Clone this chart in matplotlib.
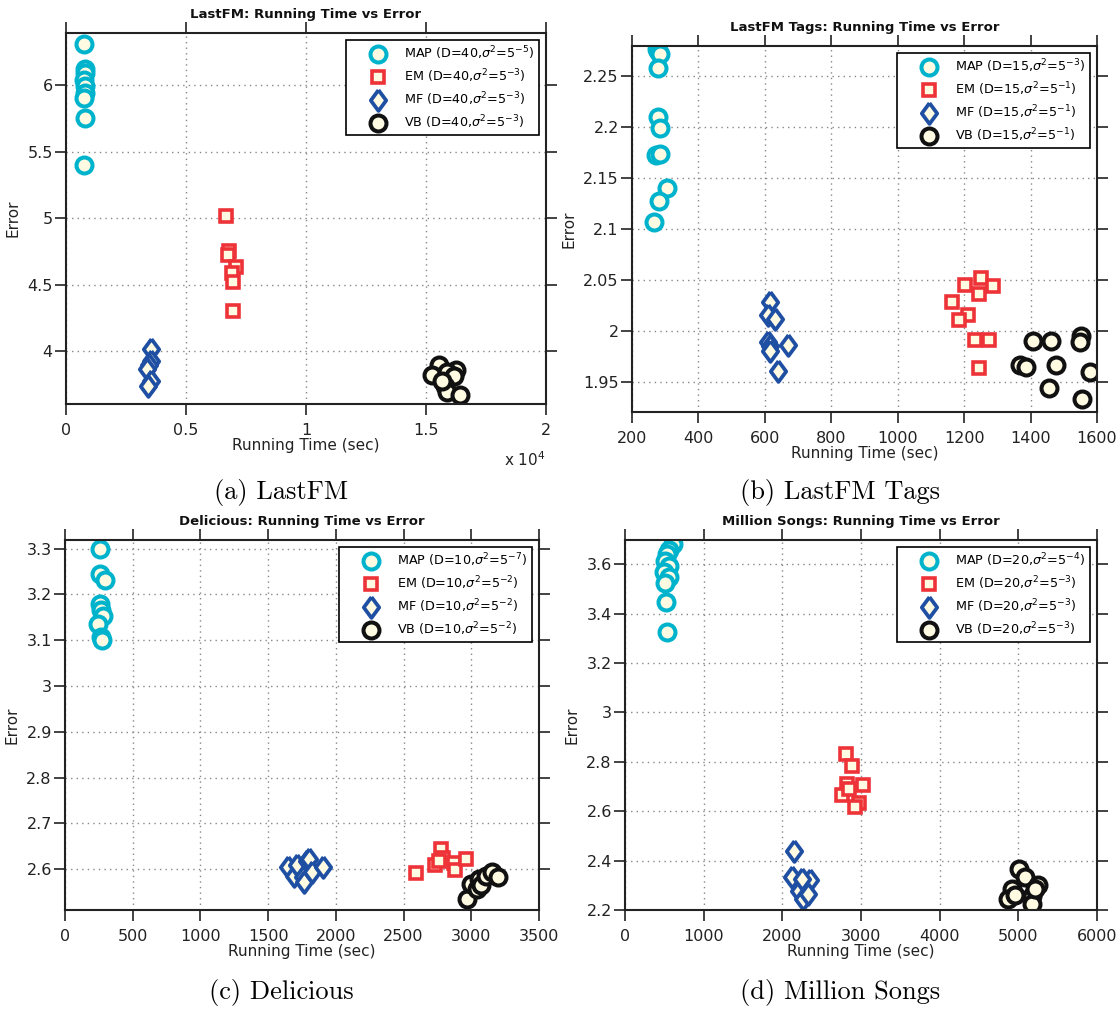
import matplotlib
matplotlib.use('Agg')
import matplotlib.pyplot as plt
from matplotlib.ticker import FixedLocator, FixedFormatter

plt.rcParams['font.family'] = ['DejaVu Sans']
plt.rcParams['mathtext.fontset'] = 'dejavusans'

# ---------------- data ----------------
# (a) LastFM
a_map_x = [770, 780, 790, 770, 800, 780, 770, 780, 770]
a_map_y = [6.31, 6.12, 6.09, 6.04, 5.99, 5.94, 5.90, 5.75, 5.40]
a_em_x = [6660, 6800, 6730, 7075, 6910, 6940, 6940]
a_em_y = [5.02, 4.75, 4.72, 4.63, 4.59, 4.52, 4.30]
a_mf_x = [3560, 3540, 3470, 3380, 3560, 3420]
a_mf_y = [4.02, 3.93, 3.90, 3.87, 3.78, 3.74]
a_vb_x = [15530, 16245, 15250, 15870, 16150, 15800, 15870, 16425, 15670]
a_vb_y = [3.897, 3.862, 3.822, 3.842, 3.817, 3.742, 3.692, 3.672, 3.78]

# (b) LastFM Tags
b_map_x = [274, 277, 283, 277, 278, 283, 272, 283, 304, 280, 265]
b_map_y = [2.277, 2.275, 2.2716, 2.258, 2.2105, 2.1997, 2.1725, 2.1735, 2.140, 2.128, 2.107]
b_em_x = [1163, 1203, 1250, 1246, 1286, 1213, 1186, 1234, 1274, 1244]
b_em_y = [2.0284, 2.0454, 2.0516, 2.0359, 2.0438, 2.016, 2.011, 1.9915, 1.9908, 1.9634]
b_mf_x = [615, 609, 632, 609, 616, 614, 671, 639]
b_mf_y = [2.029, 2.016, 2.0118, 1.989, 1.9856, 1.980, 1.986, 1.9605]
b_vb_x = [1406, 1460, 1552, 1549, 1369, 1385, 1476, 1578, 1455, 1554]
b_vb_y = [1.9898, 1.9898, 1.9955, 1.989, 1.967, 1.965, 1.9667, 1.9595, 1.944, 1.9333]

# (c) Delicious
c_map_x = [260, 260, 292, 260, 268, 278, 247, 268, 273]
c_map_y = [3.300, 3.245, 3.232, 3.180, 3.167, 3.153, 3.136, 3.107, 3.101]
c_em_x = [2590, 2780, 2790, 2730, 2760, 2870, 2880, 2960]
c_em_y = [2.591, 2.645, 2.625, 2.610, 2.618, 2.613, 2.598, 2.622]
c_mf_x = [1650, 1690, 1715, 1760, 1765, 1790, 1805, 1825, 1905]
c_mf_y = [2.604, 2.586, 2.609, 2.583, 2.572, 2.618, 2.622, 2.595, 2.605]
c_vb_x = [2970, 3000, 3040, 3055, 3070, 3110, 3150, 3200]
c_vb_y = [2.534, 2.567, 2.556, 2.578, 2.565, 2.586, 2.593, 2.584]

# (d) Million Songs
d_map_x = [604, 559, 540, 513, 559, 490, 559, 504, 522, 536]
d_map_y = [3.681, 3.658, 3.640, 3.611, 3.591, 3.570, 3.550, 3.523, 3.449, 3.324]
d_em_x = [2810, 2885, 2820, 3025, 2760, 2980, 2920, 2850]
d_em_y = [2.830, 2.783, 2.709, 2.705, 2.666, 2.632, 2.615, 2.690]
d_mf_x = [2150, 2125, 2350, 2210, 2260, 2330, 2250]
d_mf_y = [2.440, 2.335, 2.322, 2.278, 2.244, 2.265, 2.325]
d_vb_x = [5010, 5080, 5250, 4920, 4870, 5170, 5180, 5215, 4960]
d_vb_y = [2.368, 2.332, 2.302, 2.285, 2.244, 2.258, 2.224, 2.285, 2.260]

methods = ['MAP', 'EM', 'MF', 'VB']
dims = [40, 15, 10, 20]
exponents = [[-5, -3, -3, -3], [-3, -1, -1, -1], [-7, -2, -2, -2], [-4, -3, -3, -3]]
titles = ['LastFM: Running Time vs Error', 'LastFM Tags: Running Time vs Error',
          'Delicious: Running Time vs Error', 'Million Songs: Running Time vs Error']
captions = ['(a) LastFM', '(b) LastFM Tags', '(c) Delicious', '(d) Million Songs']

xticks = [[0, 5000, 10000, 15000, 20000],
          [200, 400, 600, 800, 1000, 1200, 1400, 1600],
          [0, 500, 1000, 1500, 2000, 2500, 3000, 3500],
          [0, 1000, 2000, 3000, 4000, 5000, 6000]]
xticklabels = [['0', '0.5', '1', '1.5', '2'],
               ['200', '400', '600', '800', '1000', '1200', '1400', '1600'],
               ['0', '500', '1000', '1500', '2000', '2500', '3000', '3500'],
               ['0', '1000', '2000', '3000', '4000', '5000', '6000']]
yticks = [[4, 4.5, 5, 5.5, 6],
          [1.95, 2.0, 2.05, 2.1, 2.15, 2.2, 2.25],
          [2.6, 2.7, 2.8, 2.9, 3.0, 3.1, 3.2, 3.3],
          [2.2, 2.4, 2.6, 2.8, 3.0, 3.2, 3.4, 3.6]]
yticklabels = [['4', '4.5', '5', '5.5', '6'],
               ['1.95', '2', '2.05', '2.1', '2.15', '2.2', '2.25'],
               ['2.6', '2.7', '2.8', '2.9', '3', '3.1', '3.2', '3.3'],
               ['2.2', '2.4', '2.6', '2.8', '3', '3.2', '3.4', '3.6']]
xlims = [(0, 20000), (200, 1600), (0, 3500), (0, 6000)]
ylims = [(3.605, 6.39), (1.9206, 2.2797), (2.511, 3.319), (2.2, 3.698)]

panels = [
    [(a_map_x, a_map_y), (a_em_x, a_em_y), (a_mf_x, a_mf_y), (a_vb_x, a_vb_y)],
    [(b_map_x, b_map_y), (b_em_x, b_em_y), (b_mf_x, b_mf_y), (b_vb_x, b_vb_y)],
    [(c_map_x, c_map_y), (c_em_x, c_em_y), (c_mf_x, c_mf_y), (c_vb_x, c_vb_y)],
    [(d_map_x, d_map_y), (d_em_x, d_em_y), (d_mf_x, d_mf_y), (d_vb_x, d_vb_y)],
]

# ---------------- style ----------------
fill = '#FFFBE3'
diamond = [(0, 1), (0.74, 0), (0, -1), (-0.74, 0), (0, 1)]
styles = [
    dict(marker='o', markeredgecolor='#00B3CC', markersize=11.5, markeredgewidth=2.9),
    dict(marker='s', markeredgecolor='#EE3338', markersize=9.2, markeredgewidth=2.6),
    dict(marker=diamond, markeredgecolor='#1E4FA3', markersize=15, markeredgewidth=2.7),
    dict(marker='o', markeredgecolor='#111111', markersize=11.5, markeredgewidth=2.9),
]

positions = [
    [66 / 1120, 1 - 404 / 1010, 480 / 1120, 371 / 1010],
    [632 / 1120, 1 - 412 / 1010, 465 / 1120, 366 / 1010],
    [65 / 1120, 1 - 910 / 1010, 474 / 1120, 370 / 1010],
    [625 / 1120, 1 - 910 / 1010, 472 / 1120, 370 / 1010],
]
caption_pos = [(281 / 1120, 1 - 492 / 1010), (840 / 1120, 1 - 492 / 1010),
               (281 / 1120, 1 - 993 / 1010), (840 / 1120, 1 - 993 / 1010)]

fig = plt.figure(figsize=(11.2, 10.1), dpi=100)

for i in range(4):
    ax = fig.add_axes(positions[i])
    for j, (xs, ys) in enumerate(panels[i]):
        lab = '%s (D=%d,$\\sigma^2$=5$^{%d}$)' % (methods[j], dims[i], exponents[i][j])
        ax.plot(xs, ys, linestyle='none', markerfacecolor=fill, label=lab, **styles[j])
    ax.set_xlim(*xlims[i])
    ax.set_ylim(*ylims[i])
    ax.xaxis.set_major_locator(FixedLocator(xticks[i]))
    ax.xaxis.set_major_formatter(FixedFormatter(xticklabels[i]))
    ax.yaxis.set_major_locator(FixedLocator(yticks[i]))
    ax.yaxis.set_major_formatter(FixedFormatter(yticklabels[i]))
    ax.tick_params(direction='out', length=8, width=1.2, colors='#222222',
                   labelsize=11.5, top=True, right=True, labelcolor='#222222')
    ax.tick_params(axis='x', pad=6)
    ax.tick_params(axis='y', pad=1.5)
    for s in ax.spines.values():
        s.set_linewidth(1.5)
        s.set_color('#222222')
    ax.grid(True, linestyle=(0, (1, 3)), color='#888888', linewidth=1.0)
    ax.set_axisbelow(True)
    ax.set_xlabel('Running Time (sec)', fontsize=11, color='#222222', labelpad=0)
    ax.set_ylabel('Error', fontsize=11, color='#222222', labelpad=5)
    ax.set_title(titles[i], fontsize=9.5, fontweight='bold', pad=11, color='#111111')
    leg = ax.legend(loc='upper right', fontsize=9.2, frameon=True, fancybox=False,
                    edgecolor='black', framealpha=1, handlelength=4.2,
                    handletextpad=0.0, borderpad=0.35, labelspacing=0.42,
                    borderaxespad=0.55, numpoints=1)
    leg.get_frame().set_linewidth(1.2)
    if i == 0:
        ax.text(1.0, -0.125, 'x 10$^4$', transform=ax.transAxes, ha='right',
                va='top', fontsize=11, color='#222222')
    fig.text(caption_pos[i][0], caption_pos[i][1], captions[i], ha='center',
             va='center', fontsize=19, family='cmr10')

fig.savefig('out.png', dpi=100)
